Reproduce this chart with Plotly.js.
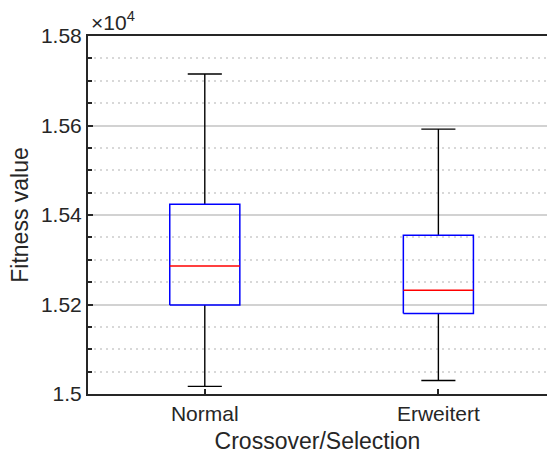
<!DOCTYPE html>
<html>
<head>
<meta charset="utf-8">
<script src="https://cdn.plot.ly/plotly-3.0.1.min.js"></script>
<style>
  html, body { margin: 0; padding: 0; background: #fff; }
  #chart { width: 547px; height: 454px; }
</style>
</head>
<body>
<div id="chart"></div>
<script>
// Box-plot summary statistics per group (fitness values)
const categories   = ["Normal", "Erweitert"];
const lowerWhisker = [15017, 15030];
const q1           = [15199, 15180];
const median       = [15286, 15232];
const q3           = [15424, 15355];
const upperWhisker = [15715, 15592];

// y-axis labels (values shown scaled by 10^4)
const yTickVals  = [15000, 15200, 15400, 15600, 15800];
const yTickText  = ["1.5", "1.52", "1.54", "1.56", "1.58"];

const BOX_HALF = 0.15;   // half box width, category units
const CAP_HALF = 0.073;  // half whisker-cap width
const ink = "#262626";

const traces = [];
categories.forEach((name, i) => {
  const x = i + 1;
  // whiskers (vertical) and caps
  traces.push({
    type: "scatter", mode: "lines", hoverinfo: "skip", showlegend: false,
    x: [x, x, null, x, x, null, x - CAP_HALF, x + CAP_HALF, null, x - CAP_HALF, x + CAP_HALF],
    y: [q3[i], upperWhisker[i], null, q1[i], lowerWhisker[i], null,
        upperWhisker[i], upperWhisker[i], null, lowerWhisker[i], lowerWhisker[i]],
    line: { color: "#000000", width: 1.4 }
  });
  // box outline
  traces.push({
    type: "scatter", mode: "lines", hoverinfo: "skip", showlegend: false,
    x: [x - BOX_HALF, x + BOX_HALF, x + BOX_HALF, x - BOX_HALF, x - BOX_HALF],
    y: [q1[i], q1[i], q3[i], q3[i], q1[i]],
    line: { color: "#0000ff", width: 1.5 }
  });
  // median
  traces.push({
    type: "scatter", mode: "lines", hoverinfo: "skip", showlegend: false,
    x: [x - BOX_HALF, x + BOX_HALF],
    y: [median[i], median[i]],
    line: { color: "#ff0000", width: 1.5 }
  });
});

const layout = {
  width: 547, height: 454,
  margin: { l: 88, r: 0, t: 36, b: 60, pad: 0 },
  paper_bgcolor: "#ffffff", plot_bgcolor: "#ffffff",
  font: { family: "Liberation Sans, Arial, sans-serif", color: ink, size: 21 },
  showlegend: false,
  xaxis: {
    range: [0.5, 2.465],
    tickvals: categories.map((_, i) => i + 1),
    ticktext: categories,
    ticks: "inside", ticklen: 5, tickwidth: 2, tickcolor: ink,
    showline: true, linecolor: ink, linewidth: 2, mirror: true,
    showgrid: false, zeroline: false,
    tickfont: { size: 21, color: ink },
    title: { text: "Crossover/Selection", font: { size: 23, color: ink }, standoff: 9 }
  },
  yaxis: {
    range: [15000, 15800],
    tickvals: yTickVals,
    ticktext: yTickText,
    ticks: "inside", ticklen: 5, tickwidth: 2, tickcolor: ink,
    showline: true, linecolor: ink, linewidth: 2, mirror: false,
    showgrid: true, gridcolor: "#d2d2d2", gridwidth: 2,
    zeroline: false,
    tickfont: { size: 21, color: ink },
    title: { text: "Fitness value", font: { size: 23, color: ink }, standoff: 6 },
    minor: {
      dtick: 50, tick0: 15000,
      ticks: "inside", ticklen: 4, tickwidth: 2, tickcolor: ink,
      showgrid: true, gridcolor: "#d8d8d8", gridwidth: 2, griddash: "2px,4px"
    }
  },
  annotations: [{
    xref: "paper", yref: "paper", x: 0, y: 1,
    xanchor: "left", yanchor: "bottom", xshift: 1, yshift: 0,
    text: "×10<sup>4</sup>", showarrow: false,
    font: { size: 21, color: ink }
  }]
};

Plotly.newPlot("chart", traces, layout, { displayModeBar: false, staticPlot: true });
</script>
</body>
</html>
